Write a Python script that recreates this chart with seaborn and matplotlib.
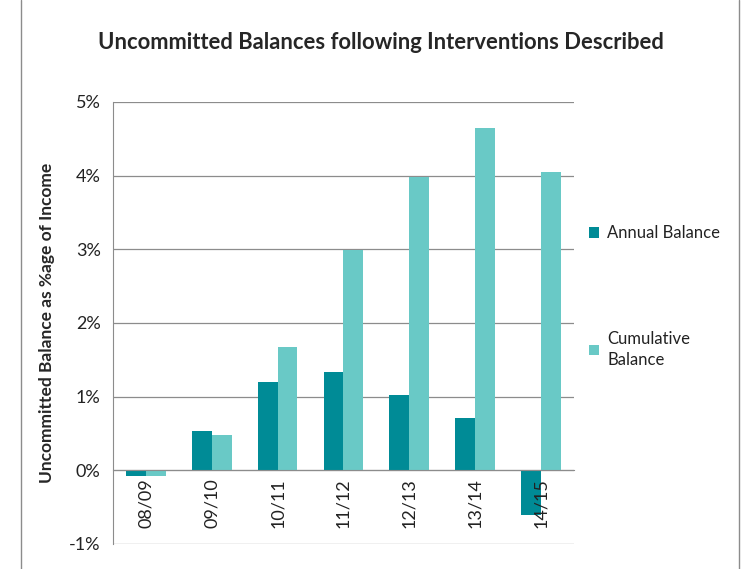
import pandas as pd
import seaborn as sns
import matplotlib.pyplot as plt
from matplotlib.lines import Line2D
from matplotlib.ticker import FuncFormatter, FixedLocator

years = ['08/09', '09/10', '10/11', '11/12', '12/13', '13/14', '14/15']
annual = [-0.08, 0.53, 1.20, 1.33, 1.02, 0.71, -0.61]
cumulative = [-0.08, 0.48, 1.67, 2.99, 3.98, 4.65, 4.05]
series = ['Annual Balance', 'Cumulative Balance']

df = pd.DataFrame({
    'year': years * 2,
    'value': annual + cumulative,
    'series': [series[0]] * len(years) + [series[1]] * len(years),
})

sns.set_style('white')
plt.rcParams['font.family'] = ['Lato', 'DejaVu Sans']

fig = plt.figure(figsize=(7.49, 5.69), dpi=100)
ax = fig.add_axes([0.151, 0.044, 0.615, 0.777])

sns.barplot(data=df, x='year', y='value', hue='series',
            palette=['#008B96', '#69C9C6'], width=0.6, saturation=1,
            linewidth=0, ax=ax, legend=True)

ax.set_ylim(-1, 5)
ax.set_xlim(-0.5, len(years) - 0.5)
ax.yaxis.set_major_locator(FixedLocator(range(-1, 6)))
ax.yaxis.set_major_formatter(FuncFormatter(lambda v, p: f'{v:.0f}%'))
# gridlines drawn behind the bars, axis (and its labels) above them
for v in range(-1, 6):
    ax.axhline(v, color='#8c8c8c', lw=0.9, zorder=0.5)
ax.set_axisbelow(False)

for s in ['top', 'right']:
    ax.spines[s].set_visible(False)
ax.spines['left'].set_color('#8c8c8c')
ax.spines['bottom'].set_color('#8c8c8c')
ax.spines['bottom'].set_position(('data', 0))

ax.tick_params(axis='y', which='major', length=5, color='#8c8c8c', direction='out',
               labelsize=13, labelcolor='#222222', pad=4)
ax.set_xticks(range(len(years)))
ax.set_xticklabels(years, rotation=90, fontsize=13, color='#222222')
ax.tick_params(axis='x', which='major', length=0, pad=6)
ax.set_xticks([i - 0.5 for i in range(len(years) + 1)], minor=True)
ax.tick_params(axis='x', which='minor', length=5, color='#8c8c8c', direction='out')

ax.set_xlabel('')
ax.set_ylabel('Uncommitted Balance as %age of Income', fontsize=12.5,
              fontweight='bold', labelpad=10)

fig.text(0.508, 0.925, 'Uncommitted Balances following Interventions Described',
         ha='center', va='center', fontsize=15.8, fontweight='bold')

handles, labels = ax.get_legend_handles_labels()
leg = ax.legend(handles, ['Annual Balance', 'Cumulative\nBalance'],
                loc='upper left', bbox_to_anchor=(1.0, 0.755), frameon=False,
                fontsize=12, handlelength=0.6, handleheight=0.6, handletextpad=0.5,
                labelspacing=5.4, labelcolor='#222222')
for t in leg.get_texts():
    t.set_linespacing(1.35)

# chart border (left and right edges visible)
for x in [0.028, 0.987]:
    fig.add_artist(Line2D([x, x], [0, 1], color='#8c8c8c', lw=1))

fig.savefig('out.png', dpi=100)
